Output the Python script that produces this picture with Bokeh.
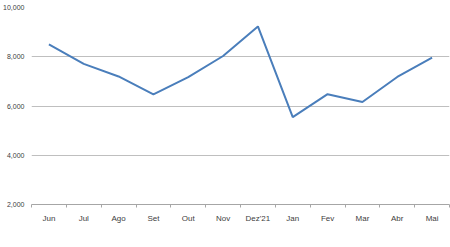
from bokeh.plotting import figure
from bokeh.models import Range1d, FixedTicker, NumeralTickFormatter
from bokeh.embed import file_html
from bokeh.resources import INLINE

months = ["Jun", "Jul", "Ago", "Set", "Out", "Nov", "Dez'21", "Jan", "Fev", "Mar", "Abr", "Mai"]
values = [8500, 7710, 7200, 6470, 7170, 8030, 9230, 5550, 6480, 6160, 7180, 7960]
y_ticks = [2000, 4000, 6000, 8000, 10000]

xs = [i + 0.5 for i in range(len(months))]

p = figure(width=450, height=247, output_backend="svg", toolbar_location=None,
           x_range=Range1d(0, len(months)), y_range=Range1d(2000, 10000),
           min_border_left=26, min_border_right=1, min_border_top=7, min_border_bottom=43)
p.outline_line_color = None
p.background_fill_color = "white"
p.border_fill_color = "white"

p.line(xs, values, line_color="#4a7ebb", line_width=2)

# x axis
p.xaxis.ticker = FixedTicker(ticks=xs, minor_ticks=list(range(len(months) + 1)))
p.xaxis.major_label_overrides = {x: m for x, m in zip(xs, months)}
p.xaxis.major_tick_line_color = None
p.xaxis.minor_tick_line_color = "#a6a6a6"
p.xaxis.minor_tick_out = 3
p.xaxis.minor_tick_in = 0
p.xaxis.axis_line_color = "#a6a6a6"
p.xaxis.major_label_text_font = "Liberation Sans"
p.xaxis.major_label_text_font_size = "8px"
p.xaxis.major_label_text_color = "#404040"
p.xaxis.major_label_standoff = 3
p.xgrid.grid_line_color = None

# y axis
p.yaxis.ticker = FixedTicker(ticks=y_ticks)
p.yaxis.formatter = NumeralTickFormatter(format="0,0")
p.yaxis.axis_line_color = None
p.yaxis.major_tick_line_color = None
p.yaxis.minor_tick_line_color = None
p.yaxis.major_label_text_font = "Liberation Sans"
p.yaxis.major_label_text_font_size = "7px"
p.yaxis.major_label_text_color = "#404040"
p.yaxis.major_label_standoff = 1
p.ygrid.grid_line_color = "#bfbfbf"
p.ygrid.grid_line_width = 1

open("out.html", "w").write(file_html(p, INLINE))
